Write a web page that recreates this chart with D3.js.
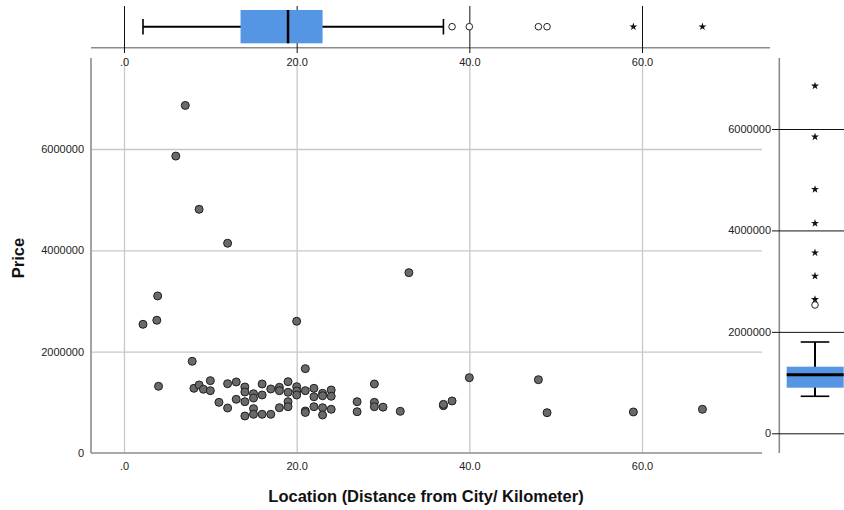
<!DOCTYPE html>
<html>
<head>
<meta charset="utf-8">
<script src="https://cdn.jsdelivr.net/npm/d3@7"></script>
<style>
  body { margin: 0; background: #fff; }
  text { font-family: 'Liberation Sans', Arial, sans-serif; }
</style>
</head>
<body>
<div class="chart"></div>
<script>
// DATA
// ----------------------------
const distance = [
  7.1, 6.0, 8.7, 12.0, 33.0, 3.9, 3.8, 2.2, 20.0,
  7.9, 21.0, 40.0, 48.0, 49.0, 59.0, 67.0, 38.0, 37.0, 37.0, 32.0, 30.0,
  29.0, 29.0, 29.0, 27.0, 27.0,
  4.0, 8.1, 8.7, 9.2, 10.0, 10.0, 11.0, 12.0, 12.0, 13.0, 13.0,
  14.0, 14.0, 14.0, 14.0, 15.0, 15.0, 15.0, 15.0, 16.0, 16.0, 16.0,
  17.0, 17.0, 18.0, 18.0, 18.0, 19.0, 19.0, 19.0, 19.0, 20.0, 20.0, 20.0,
  21.0, 21.0, 21.0, 22.0, 22.0, 22.0, 23.0, 23.0, 23.0, 23.0, 24.0, 24.0, 24.0
]
const price = [
  6860000, 5860000, 4810000, 4140000, 3560000, 3100000, 2620000, 2540000, 2600000,
  1810000, 1665000, 1487000, 1447000, 796000, 810000, 863000, 1027000, 934000, 960000, 823000, 905000,
  1362000, 1000000, 914000, 1013000, 815000,
  1317000, 1277000, 1343000, 1258000, 1428000, 1230000, 1000000, 1368000, 888000, 1402000, 1060000,
  1303000, 1204000, 1013000, 730000, 1170000, 1085000, 875000, 764000, 1362000, 1145000, 764000,
  1264000, 764000, 1297000, 1230000, 894000, 1408000, 1198000, 1013000, 914000, 1309000, 1224000, 1145000,
  1230000, 829000, 800000, 1277000, 1110000, 914000, 1178000, 1130000, 894000, 750000, 1244000, 1120000, 863000
]

// box plot summaries: [whisker low, q1, median, q3, whisker high]
const distanceBox = [2.2, 13.5, 19.0, 23.0, 37.0]
const distanceOutliers = [38, 40, 48, 49]
const distanceExtremes = [59, 67]

const priceBox = [730000, 899000, 1156000, 1313000, 1800000]
const priceOutliers = [2530000]
const priceExtremes = [2640000, 3100000, 3560000, 4140000, 4810000, 5845000, 6850000]

const xTicks = [0, 20, 40, 60]
const yTicks = [0, 2000000, 4000000, 6000000]

// SETUP
// ----------------------------
const fullWidth = 844
const fullHeight = 510
const plot = { left: 91, right: 762, top: 58, bottom: 453 }

const svg = d3.select('.chart')
  .append('svg')
    .attr('width', fullWidth)
    .attr('height', fullHeight)

const gridColor = '#c8c8c8'
const frameColor = '#8c8c8c'
const boxColor = '#5496e4'
const fmtX = d => d === 0 ? '.0' : d.toFixed(1)

// scales
const xScale = d3.scaleLinear().domain([0, 60]).range([124, 642])
const yScale = d3.scaleLinear().domain([0, 6000000]).range([453, 149])
const yRight = d3.scaleLinear().domain([0, 6000000]).range([433.3, 129])

// MAIN GRID
// ----------------------------
svg.append('g')
    .attr('transform', `translate(0, ${plot.bottom})`)
  .call(d3.axisBottom(xScale).tickValues(xTicks).tickSize(-(plot.bottom - plot.top)).tickFormat(''))
  .call(g => g.select('.domain').remove())
  .call(g => g.selectAll('line').attr('stroke', gridColor).attr('stroke-width', 1.3))

svg.append('g')
    .attr('transform', `translate(${plot.left}, 0)`)
  .call(d3.axisRight(yScale).tickValues(yTicks.slice(1)).tickSize(plot.right - plot.left).tickFormat(''))
  .call(g => g.select('.domain').remove())
  .call(g => g.selectAll('line').attr('stroke', gridColor).attr('stroke-width', 1.3))

// main axes (labels only)
svg.append('g')
    .attr('transform', `translate(0, ${plot.bottom})`)
  .call(d3.axisBottom(xScale).tickValues(xTicks).tickSize(0).tickPadding(9).tickFormat(fmtX))
  .call(g => g.select('.domain').remove())
  .call(g => g.selectAll('text').attr('fill', '#222').style('font-size', '11px'))

svg.append('g')
    .attr('transform', `translate(${plot.left}, 0)`)
  .call(d3.axisLeft(yScale).tickValues(yTicks).tickSize(0).tickPadding(7).tickFormat(d3.format('d')))
  .call(g => g.select('.domain').remove())
  .call(g => g.selectAll('text').attr('fill', '#222').style('font-size', '11px'))

// frame
svg.append('line')
  .attr('x1', plot.left).attr('x2', plot.left)
  .attr('y1', plot.top).attr('y2', plot.bottom)
  .attr('stroke', frameColor).attr('stroke-width', 1.6)
svg.append('line')
  .attr('x1', plot.left).attr('x2', plot.right)
  .attr('y1', plot.bottom).attr('y2', plot.bottom)
  .attr('stroke', frameColor).attr('stroke-width', 1.6)

// Scatterplot
// ----------------------------
svg.append('g')
  .selectAll('circle')
  .data(distance.map((d, i) => ({ x: d, y: price[i] })))
  .enter()
  .append('circle')
    .attr('cx', d => xScale(d.x))
    .attr('cy', d => yScale(d.y))
    .attr('r', 4)
    .style('fill', '#6a6a6a')
    .style('stroke', '#1e1e1e')
    .style('stroke-width', 1)

// TOP BOX PLOT (distance)
// ----------------------------
const topAxisY = 47.7
const topMid = 26.7

svg.append('line')
  .attr('x1', plot.left).attr('x2', 770)
  .attr('y1', topAxisY).attr('y2', topAxisY)
  .attr('stroke', frameColor).attr('stroke-width', 1.6)

svg.append('g')
    .attr('transform', 'translate(0, 6)')
  .call(d3.axisBottom(xScale).tickValues(xTicks).tickSize(47).tickPadding(5).tickFormat(fmtX))
  .call(g => g.select('.domain').remove())
  .call(g => g.selectAll('line').attr('stroke', '#111').attr('stroke-width', 1))
  .call(g => g.selectAll('text').attr('fill', '#222').style('font-size', '11px'))

const topBox = svg.append('g')
topBox.append('line')
  .attr('x1', xScale(distanceBox[0])).attr('x2', xScale(distanceBox[4]))
  .attr('y1', topMid).attr('y2', topMid)
  .attr('stroke', '#000').attr('stroke-width', 2)
topBox.selectAll('.cap')
  .data([distanceBox[0], distanceBox[4]])
  .enter().append('line')
    .attr('x1', d => xScale(d)).attr('x2', d => xScale(d))
    .attr('y1', 19).attr('y2', 34.5)
    .attr('stroke', '#000').attr('stroke-width', 1.6)
topBox.append('rect')
  .attr('x', xScale(distanceBox[1]))
  .attr('width', xScale(distanceBox[3]) - xScale(distanceBox[1]))
  .attr('y', 10).attr('height', 33.3)
  .attr('fill', boxColor)
topBox.append('line')
  .attr('x1', xScale(distanceBox[2])).attr('x2', xScale(distanceBox[2]))
  .attr('y1', 10).attr('y2', 43.3)
  .attr('stroke', '#000').attr('stroke-width', 2.5)
topBox.selectAll('.out')
  .data(distanceOutliers)
  .enter().append('circle')
    .attr('cx', d => xScale(d)).attr('cy', topMid)
    .attr('r', 3.3)
    .attr('fill', '#fff').attr('stroke', '#222').attr('stroke-width', 1)
topBox.selectAll('.ext')
  .data(distanceExtremes)
  .enter().append('path')
    .attr('d', d3.symbol().type(d3.symbolStar).size(20))
    .attr('transform', d => `translate(${xScale(d)}, ${topMid})`)
    .attr('fill', '#111')

// RIGHT BOX PLOT (price)
// ----------------------------
const rightX = 779.3
const rightMid = 815

svg.append('line')
  .attr('x1', rightX).attr('x2', rightX)
  .attr('y1', plot.top).attr('y2', plot.bottom)
  .attr('stroke', frameColor).attr('stroke-width', 1.6)

svg.append('g')
    .attr('transform', `translate(${fullWidth}, 0)`)
  .call(d3.axisLeft(yRight).tickValues(yTicks).tickSize(fullWidth - 772).tickPadding(1).tickFormat(d3.format('d')))
  .call(g => g.select('.domain').remove())
  .call(g => g.selectAll('line').attr('stroke', '#111').attr('stroke-width', 1))
  .call(g => g.selectAll('text').attr('fill', '#222').style('font-size', '11px'))

const rightBox = svg.append('g')
rightBox.append('line')
  .attr('x1', rightMid).attr('x2', rightMid)
  .attr('y1', yRight(priceBox[0])).attr('y2', yRight(priceBox[4]))
  .attr('stroke', '#000').attr('stroke-width', 2)
rightBox.selectAll('.cap')
  .data([priceBox[0], priceBox[4]])
  .enter().append('line')
    .attr('x1', 800.7).attr('x2', 829.3)
    .attr('y1', d => yRight(d)).attr('y2', d => yRight(d))
    .attr('stroke', '#000').attr('stroke-width', 1.6)
rightBox.append('rect')
  .attr('x', 786.7).attr('width', 57)
  .attr('y', yRight(priceBox[3]))
  .attr('height', yRight(priceBox[1]) - yRight(priceBox[3]))
  .attr('fill', boxColor)
rightBox.append('line')
  .attr('x1', 786.7).attr('x2', 843.7)
  .attr('y1', yRight(priceBox[2])).attr('y2', yRight(priceBox[2]))
  .attr('stroke', '#000').attr('stroke-width', 3)
rightBox.selectAll('.out')
  .data(priceOutliers)
  .enter().append('circle')
    .attr('cx', rightMid).attr('cy', d => yRight(d))
    .attr('r', 3.3)
    .attr('fill', '#fff').attr('stroke', '#222').attr('stroke-width', 1)
rightBox.selectAll('.ext')
  .data(priceExtremes)
  .enter().append('path')
    .attr('d', d3.symbol().type(d3.symbolStar).size(20))
    .attr('transform', d => `translate(${rightMid}, ${yRight(d)})`)
    .attr('fill', '#111')

// TITLES
// ----------------------------
svg.append('text')
  .attr('x', 426).attr('y', 502)
  .attr('text-anchor', 'middle')
  .style('font-size', '16.5px').style('font-weight', 'bold')
  .attr('fill', '#111')
  .text('Location (Distance from City/ Kilometer)')

svg.append('text')
  .attr('transform', 'translate(24, 258) rotate(-90)')
  .attr('text-anchor', 'middle')
  .style('font-size', '16.5px').style('font-weight', 'bold')
  .attr('fill', '#111')
  .text('Price')
</script>
</body>
</html>
